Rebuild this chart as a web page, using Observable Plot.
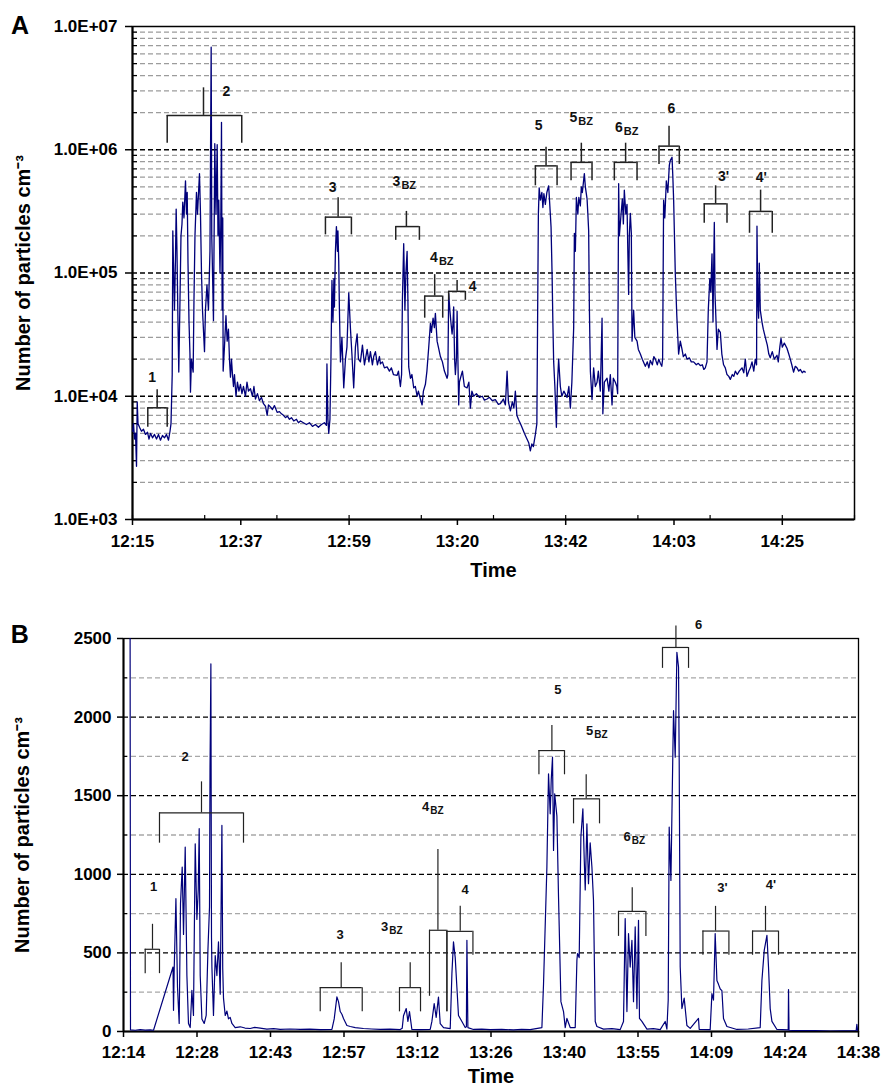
<!DOCTYPE html>
<html><head><meta charset="utf-8">
<script src="https://cdn.jsdelivr.net/npm/d3@7"></script>
<script src="https://cdn.jsdelivr.net/npm/@observablehq/plot@0.6"></script>
<style>
body{margin:0;background:#fff;}
#fig{position:relative;width:884px;height:1088px;}
#fig svg{display:block;}
</style></head><body><div id="fig"></div>
<script>
// ---------- Panel A data (time = minutes after 12:00, value = particles cm^-3) ----------
const seriesA = [[15.04,5.2e3],[15.20,6.0e3],[15.40,4.5e3],[15.60,5.0e3],[15.80,2.7e3],[15.94,9.0e3],[16.10,6.0e3],[16.40,5.6e3],[16.79,5.2e3],[17.19,5.4e3],[17.59,4.9e3],[17.99,5.1e3],[18.29,4.5e3],[18.59,5.0e3],[18.99,4.6e3],[19.39,4.9e3],[19.79,4.5e3],[20.18,4.9e3],[20.58,4.4e3],[20.98,4.8e3],[21.38,4.6e3],[21.78,4.9e3],[22.18,4.4e3],[22.48,5.2e3],[22.68,6.0e3],[22.92,1.5e4],[23.04,2.2e5],[23.17,1.2e5],[23.37,5.0e4],[23.57,1.3e5],[23.71,3.3e5],[23.87,1.5e5],[24.07,4.0e4],[24.23,1.57e4],[24.47,6.0e4],[24.67,2.0e5],[24.87,2.5e5],[25.03,3.76e5],[25.27,2.8e5],[25.57,5.6e5],[25.77,3.0e5],[25.91,4.5e5],[26.07,1.2e5],[26.27,4.0e4],[26.46,2.2e4],[26.56,1.08e4],[26.76,2.0e4],[27.10,1.57e4],[27.26,6.0e4],[27.46,2.0e5],[27.76,4.5e5],[27.96,3.0e5],[28.36,6.4e5],[28.56,3.0e5],[28.76,1.0e5],[28.96,5.0e4],[29.36,2.3e4],[29.55,5.0e4],[29.85,8.0e4],[30.15,5.0e4],[30.45,1.5e5],[30.69,6.8e6],[30.81,2.0e5],[31.01,8.0e4],[31.15,4.1e4],[31.31,3.0e5],[31.41,1.12e6],[31.65,3.0e5],[31.89,1.1e6],[32.05,2.0e5],[32.21,3.9e5],[32.45,1.0e5],[32.61,2.5e5],[32.75,1.67e6],[32.88,5.0e4],[33.00,2.8e5],[33.08,1.6e4],[33.34,2.5e4],[33.64,4.5e4],[33.88,2.8e4],[34.14,3.5e4],[34.34,2.0e4],[34.54,1.43e4],[34.74,2.0e4],[34.94,1.5e4],[35.14,1.2e4],[35.34,1.5e4],[35.64,1.0e4],[35.93,1.3e4],[36.23,1.1e4],[36.53,1.25e4],[36.83,1.05e4],[37.13,1.2e4],[37.53,1.0e4],[37.83,1.3e4],[38.13,1.1e4],[38.53,1.15e4],[38.93,1.0e4],[39.22,1.2e4],[39.52,9.5e3],[39.92,1.05e4],[40.32,9.2e3],[40.72,9.8e3],[41.12,8.7e3],[41.52,8.3e3],[41.86,7.0e3],[42.12,8.5e3],[42.51,8.2e3],[42.91,7.8e3],[43.31,8.4e3],[43.85,7.4e3],[44.31,7.5e3],[44.71,7.2e3],[45.11,7.0e3],[45.51,6.7e3],[45.90,6.9e3],[46.30,6.5e3],[46.70,6.7e3],[47.16,6.3e3],[47.70,6.5e3],[48.10,6.1e3],[48.50,6.3e3],[49.09,6.1e3],[49.69,5.9e3],[50.29,6.1e3],[50.89,5.7e3],[51.49,5.9e3],[52.08,5.6e3],[52.68,5.9e3],[53.28,6.1e3],[53.68,5.8e3],[53.78,1.83e4],[53.98,6.5e3],[54.14,5.0e3],[54.38,6.5e3],[54.58,2.0e4],[54.78,8.7e4],[54.98,4.0e4],[55.17,9.0e4],[55.27,5.3e4],[55.47,1.5e5],[55.67,2.38e5],[55.87,1.5e5],[55.97,2.2e5],[56.13,1.26e5],[56.27,5.0e4],[56.47,1.9e4],[56.77,3.0e4],[57.13,1.17e4],[57.47,2.0e4],[57.77,2.5e4],[58.13,6.9e4],[58.46,3.6e4],[58.76,2.2e4],[59.12,1.17e4],[59.46,2.5e4],[59.80,3.2e4],[60.06,2.0e4],[60.46,1.9e4],[60.86,2.6e4],[61.26,1.8e4],[61.80,2.4e4],[62.15,1.9e4],[62.45,2.3e4],[62.85,1.8e4],[63.11,2.1e4],[63.45,2.3e4],[63.85,1.8e4],[64.25,2.1e4],[64.45,1.83e4],[64.85,1.9e4],[65.24,1.7e4],[65.78,1.73e4],[66.24,1.6e4],[66.64,1.7e4],[67.04,1.5e4],[67.78,1.48e4],[68.04,1.6e4],[68.43,1.2e4],[68.67,1.5e4],[68.83,6.0e4],[69.09,1.73e5],[69.33,5.0e4],[69.53,1.0e5],[69.77,1.5e5],[69.93,6.0e4],[70.09,1.73e4],[70.43,1.4e4],[70.73,1.5e4],[71.09,1.17e4],[71.42,1.2e4],[71.76,1.0e4],[72.02,1.1e4],[72.42,9.5e3],[72.76,8.5e3],[73.02,1.1e4],[73.42,1.25e4],[73.72,1.6e4],[74.08,2.5e4],[74.42,3.9e4],[74.62,3.3e4],[74.95,4.3e4],[75.21,3.6e4],[75.41,4.7e4],[75.75,2.8e4],[76.01,2.5e4],[76.41,2.1e4],[76.81,1.9e4],[77.21,1.6e4],[77.74,1.4e4],[77.90,1.5e4],[78.06,6.8e4],[78.30,5.0e4],[78.50,4.0e4],[78.74,3.2e4],[78.90,3.8e4],[79.06,5.3e4],[79.24,2.0e4],[79.40,1.5e4],[79.60,2.0e4],[79.74,4.9e4],[79.90,2.0e4],[80.06,8.5e3],[80.20,1.3e4],[80.40,1.4e4],[80.80,1.6e4],[81.19,1.2e4],[81.73,1.17e4],[82.09,1.3e4],[82.39,8.0e3],[82.69,1.1e4],[83.05,1.0e4],[83.59,1.05e4],[84.18,9.8e3],[84.78,1.0e4],[85.18,9.3e3],[85.72,9.5e3],[86.18,9.8e3],[86.78,9.2e3],[87.37,9.4e3],[87.97,8.6e3],[88.37,8.7e3],[88.97,9.5e3],[89.37,8.5e3],[89.71,1.6e4],[89.97,9.0e3],[90.37,7.6e3],[90.76,9.0e3],[91.06,8.0e3],[91.36,1.1e4],[91.66,7.0e3],[91.96,6.5e3],[92.36,6.0e3],[92.76,5.5e3],[93.16,5.0e3],[93.56,4.6e3],[94.02,4.2e3],[94.35,3.6e3],[94.65,4.1e3],[94.95,3.9e3],[95.35,4.9e3],[95.65,6.0e3],[95.81,5.0e4],[95.95,3.0e5],[96.11,4.9e5],[96.35,3.9e5],[96.65,4.5e5],[96.85,3.4e5],[97.05,4.4e5],[97.34,3.6e5],[97.64,4.5e5],[98.00,5.1e5],[98.24,3.5e5],[98.48,2.35e5],[98.68,1.0e5],[98.84,4.0e4],[99.00,1.9e4],[99.24,1.2e4],[99.54,5.6e3],[99.74,1.2e4],[99.99,2.0e4],[100.33,1.2e4],[100.63,1.0e4],[101.03,1.1e4],[101.67,9.8e3],[102.03,1.2e4],[102.33,8.0e3],[102.63,1.3e4],[102.99,3.6e4],[103.13,2.1e5],[103.33,1.5e5],[103.53,4.1e5],[103.82,3.0e5],[104.02,4.1e5],[104.32,3.5e5],[104.52,5.0e5],[104.72,4.5e5],[105.12,6.4e5],[105.32,5.0e5],[105.66,4.0e5],[105.82,3.0e5],[105.98,2.2e5],[106.12,5.3e4],[106.32,1.6e4],[106.65,9.4e3],[106.97,1.7e4],[107.31,1.2e4],[107.65,1.3e4],[107.91,1.6e4],[108.31,1.1e4],[108.65,4.3e4],[108.81,7.2e3],[109.11,1.3e4],[109.65,1.4e4],[110.01,1.1e4],[110.30,1.5e4],[110.64,8.5e3],[110.90,1.4e4],[111.30,1.3e4],[111.60,1.2e4],[111.76,1.05e4],[111.96,5.3e5],[112.10,2.0e5],[112.44,3.0e5],[112.70,4.0e5],[112.90,2.5e5],[113.09,4.7e5],[113.39,3.0e5],[113.63,3.6e5],[113.79,1.5e5],[113.95,6.7e4],[114.09,2.0e5],[114.29,3.05e5],[114.49,2.1e5],[114.63,2.8e4],[114.95,5.0e4],[115.19,3.0e4],[115.63,2.8e4],[115.89,2.4e4],[116.29,2.2e4],[116.68,2.0e4],[117.28,1.75e4],[117.68,1.9e4],[117.98,1.7e4],[118.28,1.95e4],[118.68,1.8e4],[118.98,2.1e4],[119.28,2.0e4],[119.67,1.8e4],[119.97,2.0e4],[120.27,1.85e4],[120.57,1.75e4],[120.73,2.0e4],[120.93,3.9e5],[121.17,2.8e5],[121.47,5.6e5],[121.77,4.5e5],[122.07,7.5e5],[122.27,8.2e5],[122.61,8.7e5],[122.77,6.0e5],[122.93,3.9e5],[123.26,9.8e4],[123.56,4.5e4],[123.92,2.2e4],[124.26,2.8e4],[124.60,2.4e4],[124.86,2.1e4],[125.26,2.2e4],[125.60,2.0e4],[126.06,2.05e4],[126.45,1.9e4],[126.91,1.9e4],[127.45,1.8e4],[127.85,1.85e4],[128.25,1.77e4],[128.65,1.8e4],[128.95,1.65e4],[129.24,1.7e4],[129.58,1.9e4],[129.84,5.0e4],[130.14,9.0e4],[130.34,7.0e4],[130.58,1.43e5],[130.78,4.0e4],[130.90,1.0e5],[131.04,2.57e5],[131.18,6.7e4],[131.34,4.5e4],[131.58,2.4e4],[131.84,3.5e4],[132.24,3.3e4],[132.54,2.2e4],[132.89,1.8e4],[133.23,1.7e4],[133.57,1.5e4],[133.93,1.45e4],[134.23,1.37e4],[134.63,1.5e4],[134.93,1.45e4],[135.23,1.6e4],[135.62,1.5e4],[136.02,1.6e4],[136.56,1.7e4],[136.92,1.55e4],[137.22,2.0e4],[137.56,1.45e4],[137.92,1.6e4],[138.22,1.7e4],[138.56,1.9e4],[138.91,1.6e4],[139.21,2.0e4],[139.47,1.8e4],[139.55,2.4e5],[139.71,6.0e4],[139.87,4.3e4],[140.01,1.2e5],[140.21,5.0e4],[140.55,4.0e4],[140.81,3.5e4],[141.21,3.0e4],[141.61,2.6e4],[141.91,2.2e4],[142.20,2.05e4],[142.60,2.3e4],[143.00,2.0e4],[143.54,2.15e4],[143.80,1.9e4],[144.10,2.5e4],[144.34,2.95e4],[144.60,2.5e4],[145.00,2.7e4],[145.53,2.45e4],[145.89,2.2e4],[146.19,2.0e4],[146.49,1.8e4],[146.85,1.57e4],[147.19,1.75e4],[147.53,1.7e4],[147.88,1.6e4],[148.19,1.65e4],[148.58,1.55e4],[148.88,1.6e4],[149.18,1.57e4]];

const aXDomain = [15, 159];
const aYDomain = [1e3, 1e7];
const aXLabels = ["12:15","12:37","12:59","13:20","13:42","14:03","14:25"];
const aYTicks = [1e3, 1e4, 1e5, 1e6, 1e7];
const aYLabels = ["1.0E+03","1.0E+04","1.0E+05","1.0E+06","1.0E+07"];

// Panel A bracket annotations
const aBrLabel = ["1","2","3","3","4","4","5","5","6","6","3'","4'"];
const aBrSub   = ["","","","BZ","BZ","","","BZ","BZ","","",""];
const aBrX1    = [18.05,21.92,53.48,67.50,73.28,78.06,95.35,102.47,111.10,120.01,129.03,138.06];
const aBrX2    = [21.92,36.79,58.66,72.22,76.87,81.39,99.68,106.65,115.63,124.06,133.57,142.60];
const aBrTop   = [8.06e3,1.9e6,2.84e5,2.38e5,6.5e4,7.1e4,7.4e5,7.9e5,7.9e5,1.07e6,3.64e5,3.16e5];
const aBrLegL  = [5.6e3,1.13e6,2.04e5,1.84e5,4.3e4,6.0e4,5.1e5,5.6e5,5.6e5,7.6e5,2.53e5,2.1e5];
const aBrLegR  = [5.6e3,1.13e6,2.04e5,1.84e5,4.3e4,6.0e4,5.1e5,5.6e5,5.6e5,7.6e5,2.53e5,2.1e5];
const aBrStemX = [19.92,29.16,56.01,69.63,75.27,79.74,97.48,104.52,113.35,122.01,131.30,140.27];
const aBrStemTop=[1.13e4,3.18e6,4.07e5,3.16e5,9.7e4,8.7e4,1.05e6,1.13e6,1.13e6,1.55e6,5.1e5,4.7e5];
const aBrLabX  = [18.93,33.74,54.94,68.43,75.91,82.85,96.01,103.72,112.80,122.47,132.89,140.41];
const aBrLabY  = [1.41e4,2.98e6,4.9e5,5.5e5,1.34e5,7.8e4,1.57e6,1.84e6,1.52e6,2.15e6,6.1e5,6.0e5];

// ---------- Panel B data (time = minutes after 12:00) ----------
const seriesB = [[15.29,2700],[15.37,10],[16.29,8],[17.27,12],[18.25,9],[19.23,10],[19.88,8],[23.70,410],[23.80,135],[23.93,390],[24.27,845],[24.58,283],[24.91,51],[25.17,815],[25.50,1046],[25.76,617],[26.09,1173],[26.42,356],[26.73,51],[27.07,25],[27.40,262],[27.71,102],[28.05,1194],[28.38,713],[28.64,900],[28.83,1290],[29.03,356],[29.36,80],[29.81,51],[30.20,102],[30.54,516],[30.85,792],[30.95,1681],[31.03,1967],[31.12,2338],[31.24,600],[31.32,410],[31.63,102],[31.97,483],[32.30,356],[32.61,570],[32.95,237],[33.28,1311],[33.44,400],[33.59,212],[33.93,102],[34.26,130],[34.57,80],[34.90,90],[35.24,51],[35.88,25],[36.86,30],[37.80,22],[38.82,19],[39.70,26],[40.78,22],[42.09,15],[43.40,18],[44.70,14],[46.60,16],[48.62,13],[50.50,15],[52.54,12],[54.83,14],[55.28,80],[55.81,220],[56.12,190],[56.46,127],[56.79,110],[57.10,83],[57.77,38],[58.42,32],[59.40,25],[61.02,19],[62.60,16],[64.29,14],[66.20,15],[68.21,12],[68.60,20],[68.86,100],[69.39,146],[69.72,64],[70.03,127],[70.50,13],[72.13,12],[74.09,14],[74.42,64],[74.87,178],[75.26,90],[75.71,219],[76.05,50],[76.70,25],[78.01,18],[78.34,368],[78.65,570],[78.99,470],[79.32,280],[79.63,102],[80.30,64],[80.95,25],[81.18,30],[81.28,580],[81.47,25],[82.57,13],[84.20,15],[85.84,12],[88.10,14],[90.41,10],[92.00,13],[93.68,12],[95.97,25],[96.29,300],[96.95,1046],[97.27,1639],[97.60,1385],[97.80,1600],[98.05,1745],[98.25,1152],[98.48,1512],[98.91,1370],[99.23,855],[99.70,190],[100.21,127],[100.54,25],[100.87,83],[101.52,25],[102.50,25],[102.83,453],[102.95,496],[103.28,470],[103.61,1236],[104.00,1417],[104.26,1100],[104.46,900],[104.79,1321],[105.10,940],[105.43,1200],[105.77,1046],[106.08,834],[106.42,64],[106.75,32],[108.04,15],[109.70,18],[111.31,12],[111.96,64],[112.29,718],[112.63,127],[112.94,623],[113.27,410],[113.61,580],[113.92,190],[114.25,665],[114.59,146],[114.90,707],[115.09,83],[115.56,64],[116.55,15],[117.80,18],[119.15,12],[120.13,64],[120.46,15],[120.72,200],[120.91,1300],[121.25,961],[121.50,1500],[121.76,2041],[122.09,1745],[122.42,2412],[122.74,2318],[122.87,1724],[123.07,410],[123.40,146],[123.85,212],[124.38,38],[125.03,20],[126.65,83],[126.79,14],[128.94,12],[129.28,241],[129.59,200],[129.92,623],[130.26,325],[130.57,300],[130.91,270],[131.24,260],[131.55,83],[132.22,32],[134.18,13],[136.40,16],[138.74,25],[139.08,326],[139.53,516],[140.06,612],[140.37,410],[140.70,146],[141.04,64],[142.02,13],[144.23,10],[144.29,267],[144.39,8],[146.58,5],[149.50,6],[152.46,3],[155.00,4],[157.54,4],[157.68,45],[157.84,3]];

const bXDomain = [14, 158];
const bYDomain = [0, 2500];
const bXLabels = ["12:14","12:28","12:43","12:57","13:12","13:26","13:40","13:55","14:09","14:24","14:38"];
const bYTicks = [0, 500, 1000, 1500, 2000, 2500];
const bGridMajor = [500, 1000, 1500, 2000];
const bGridMinor = [250, 750, 1250, 1750, 2250];

// Panel B bracket annotations
const bBrLabel = ["1","2","3","3","4","4","5","5","6","6","3'","4'"];
const bBrSub   = ["","","","BZ","BZ","","","BZ","BZ","","",""];
const bBrX1    = [18.25,21.05,52.54,68.07,73.95,77.36,95.39,102.17,110.98,119.60,127.52,137.24];
const bBrX2    = [21.05,37.51,60.77,72.19,77.36,82.46,100.40,107.26,116.35,124.70,132.61,142.33];
const bBrTop   = [523,1391,279,279,644,637,1787,1480,764,2443,639,639];
const bBrLegL  = [368,1198,125,125,224,125,1633,1321,605,2310,485,485];
const bBrLegR  = [368,1198,125,125,125,485,1633,1321,605,2310,485,485];
const bBrStemX = [19.68,29.28,56.65,70.17,75.60,79.97,97.93,104.65,113.67,122.23,129.99,139.78];
const bBrStemTop=[682,1588,438,438,1158,796,1946,1633,915,2580,796,796];
const bBrLabX  = [19.88,26.09,56.46,65.86,73.90,80.92,99.11,106.03,113.37,126.66,131.36,140.84];
const bBrLabY  = [922,1750,612,665,1427,902,2173,1910,1236,2588,915,936];

const yTitle = "Number of particles cm\u207B\u00B3";

// ---------- helpers ----------
const font = '"Liberation Sans", Arial, Helvetica, sans-serif';
const navy = "#00007a";
const toRows = s => s.map(([t, v]) => ({t, v}));
const brackets = (lab, sub, x1, x2, top, legL, legR, sx, st, lx, ly) =>
  lab.map((l, i) => ({lab: l, sub: sub[i], x1: x1[i], x2: x2[i], top: top[i], legL: legL[i], legR: legR[i], sx: sx[i], st: st[i], lx: lx[i], ly: ly[i]}));

function bracketMarks(br, fs, subfs, sw) {
  const plain = br.filter(d => !d.sub), withSub = br.filter(d => d.sub);
  return [
    Plot.ruleY(br, {y: "top", x1: "x1", x2: "x2", stroke: "#222", strokeWidth: sw}),
    Plot.ruleX(br, {x: "x1", y1: "legL", y2: "top", stroke: "#222", strokeWidth: sw}),
    Plot.ruleX(br, {x: "x2", y1: "legR", y2: "top", stroke: "#222", strokeWidth: sw}),
    Plot.ruleX(br, {x: "sx", y1: "top", y2: "st", stroke: "#222", strokeWidth: sw}),
    Plot.text(plain, {x: "lx", y: "ly", text: "lab", fontSize: fs, fontWeight: "bold", fill: "#111"}),
    Plot.text(withSub, {x: "lx", y: "ly", text: "lab", textAnchor: "end", fontSize: fs, fontWeight: "bold", fill: "#111"}),
    Plot.text(withSub, {x: "lx", y: "ly", text: "sub", textAnchor: "start", dx: 1, dy: 4, fontSize: subfs, fontWeight: "bold", fill: "#111"})
  ];
}
function titleMarks(dxTitle, dyTime, dxLetter, dyLetter, letter) {
  return [
    Plot.text([yTitle], {text: d => d, frameAnchor: "left", textAnchor: "middle", lineAnchor: "middle", rotate: -90, dx: dxTitle, fontSize: 20, fontWeight: "bold"}),
    Plot.text(["Time"], {text: d => d, frameAnchor: "bottom", textAnchor: "middle", lineAnchor: "middle", dy: dyTime, fontSize: 20, fontWeight: "bold"}),
    Plot.text([letter], {text: d => d, frameAnchor: "top-left", textAnchor: "middle", lineAnchor: "middle", dx: dxLetter, dy: dyLetter, fontSize: 25, fontWeight: "bold"})
  ];
}

// ---------- Panel A ----------
const A = toRows(seriesA);
const aXTicks = aXLabels.map((_, i) => aXDomain[0] + 21.6 * i);
const aXMinor = d3.range(0, 11).map(i => aXDomain[0] + 14.4 * i);
const aGridMajor = [1e4, 1e5, 1e6];
const aGridMinor = [3, 4, 5, 6].flatMap(k => d3.range(2, 10).map(m => m * 10 ** k));
const brA = brackets(aBrLabel, aBrSub, aBrX1, aBrX2, aBrTop, aBrLegL, aBrLegR, aBrStemX, aBrStemTop, aBrLabX, aBrLabY);

const plotA = Plot.plot({
  width: 884, height: 580,
  marginLeft: 132, marginRight: 30, marginTop: 26, marginBottom: 61,
  style: {fontFamily: font, fontSize: "17px", fontWeight: "bold", color: "#000", background: "#fff"},
  x: {type: "linear", domain: aXDomain, axis: null},
  y: {type: "log", domain: aYDomain, axis: null},
  marks: [
    Plot.ruleY(aGridMinor, {stroke: "#9c9c9c", strokeWidth: 1.3, strokeDasharray: "5,3"}),
    Plot.ruleY(aGridMajor, {stroke: "#000", strokeWidth: 1.3, strokeDasharray: "5,3"}),
    Plot.frame({stroke: "#000", strokeWidth: 1.5}),
    Plot.ruleX(aXDomain.slice(0, 1), {stroke: "#000", strokeWidth: 2}),
    Plot.ruleY(aYDomain.slice(0, 1), {stroke: "#000", strokeWidth: 2}),
    Plot.axisY(aYTicks, {anchor: "left", tickSize: 7, tickPadding: 8, strokeWidth: 1.5, tickFormat: d => aYLabels[aYTicks.indexOf(d)], label: null}),
    Plot.axisY(aGridMinor, {anchor: "left", tickSize: -5, strokeWidth: 1.2, tickFormat: () => "", label: null}),
    Plot.axisX(aXTicks, {anchor: "bottom", tickSize: 6, tickPadding: 9, strokeWidth: 1.5, tickFormat: d => aXLabels[aXTicks.indexOf(d)], label: null}),
    Plot.axisX(aXMinor, {anchor: "bottom", tickSize: -4, strokeWidth: 1.2, tickFormat: () => "", label: null}),
    Plot.line(A, {x: "t", y: "v", stroke: navy, strokeWidth: 1.3, clip: true}),
    ...bracketMarks(brA, 14, 11, 1.5),
    ...titleMarks(-109, 51, -112.5, -1, "A")
  ]
});

// ---------- Panel B ----------
const B = toRows(seriesB);
const bXTicks = bXLabels.map((_, i) => bXDomain[0] + 14.4 * i);
const brB = brackets(bBrLabel, bBrSub, bBrX1, bBrX2, bBrTop, bBrLegL, bBrLegR, bBrStemX, bBrStemTop, bBrLabX, bBrLabY);

const plotB = Plot.plot({
  width: 884, height: 508,
  marginLeft: 123, marginRight: 26, marginTop: 58, marginBottom: 57,
  style: {fontFamily: font, fontSize: "17px", fontWeight: "bold", color: "#000", background: "#fff"},
  x: {type: "linear", domain: bXDomain, axis: null},
  y: {type: "linear", domain: bYDomain, axis: null},
  marks: [
    Plot.ruleY(bGridMinor, {stroke: "#a8a8a8", strokeWidth: 1.3, strokeDasharray: "5,3"}),
    Plot.ruleY(bGridMajor, {stroke: "#000", strokeWidth: 1.3, strokeDasharray: "5,3"}),
    Plot.frame({stroke: "#000", strokeWidth: 1.3}),
    Plot.ruleX(bXDomain.slice(0, 1), {stroke: "#000", strokeWidth: 2}),
    Plot.ruleY(bYDomain.slice(0, 1), {stroke: "#000", strokeWidth: 2.2}),
    Plot.axisY(bYTicks, {anchor: "left", tickSize: 6, tickPadding: 6, strokeWidth: 1.5, tickFormat: d => String(d), label: null}),
    Plot.axisY(bGridMinor, {anchor: "left", tickSize: -4, strokeWidth: 1.2, tickFormat: () => "", label: null}),
    Plot.axisX(bXTicks, {anchor: "bottom", tickSize: 6, tickPadding: 8, strokeWidth: 1.5, tickFormat: d => bXLabels[bXTicks.indexOf(d)], label: null}),
    Plot.line(B, {x: "t", y: "v", stroke: navy, strokeWidth: 1.2, clip: true}),
    ...bracketMarks(brB, 13, 10, 1.2),
    ...titleMarks(-101, 45, -103.8, -4, "B")
  ]
});

const fig = document.getElementById("fig");
fig.appendChild(plotA);
fig.appendChild(plotB);
</script>
</body></html>
